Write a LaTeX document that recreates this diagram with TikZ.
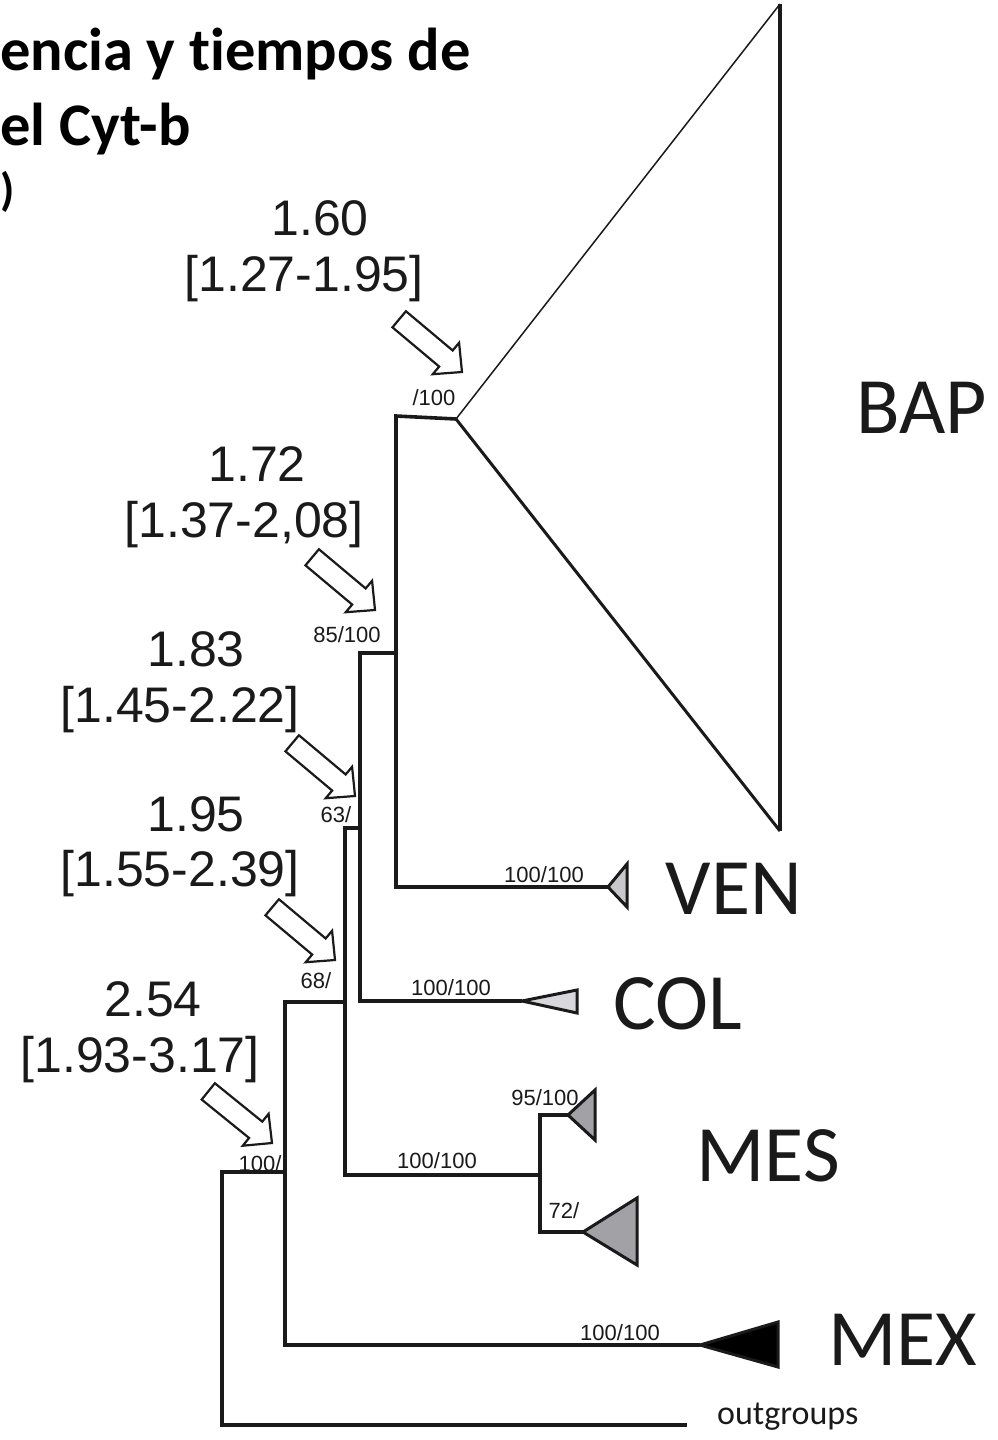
\documentclass[tikz,border=0pt]{standalone}
\usepackage{fontspec}
\setmainfont{Carlito}[Ligatures={NoCommon}]
\newfontfamily\arialf{Liberation Sans}
\definecolor{ink}{HTML}{1A1A1A}
\definecolor{venfill}{HTML}{C8C8CC}
\definecolor{colfill}{HTML}{D8D8DC}
\definecolor{mesfill}{HTML}{A2A2A6}
\begin{document}
\begin{tikzpicture}[x=1pt,y=-1pt,
  branch/.style={draw=ink, line width=3.6pt, line join=miter, line cap=butt},
  clade/.style={draw=ink, line width=3pt, line join=miter},
  support/.style={anchor=base, inner sep=0pt, text=ink, font=\arialf\fontsize{22}{24}\selectfont},
  datelab/.style={anchor=base, inner sep=0pt, text=ink, font=\arialf\fontsize{50}{56}\selectfont},
  group/.style={anchor=base, inner sep=0pt, text=ink, font=\fontsize{80}{90}\selectfont},
  titlelab/.style={anchor=base west, inner sep=0pt, text=black, font=\bfseries\fontsize{60.5}{70}\selectfont},
  harrow/.pic={\draw[draw=ink, line width=2.2pt, fill=white, line join=miter]
     (-82,-10.5) -- (-21,-10.5) -- (-21,-20.5) -- (0,0) -- (-21,20.5) -- (-21,10.5) -- (-82,10.5) -- cycle;}
]
\useasboundingbox (0,0) rectangle (998,1440);

% title (cropped in the reference)
\node[titlelab] (t1) at (0,70) {encia y tiempos de};
\node[titlelab] (t2) at (0,145) {el Cyt-b};
\node[titlelab, font=\bfseries\fontsize{46}{50}\selectfont] (t3) at (0,205) {)};

% tree coordinates
\coordinate (bapA) at (456,419);
\coordinate (bapL) at (396,416);
\coordinate (bapTop) at (780,4);
\coordinate (bapBot) at (780,831);
\coordinate (n85) at (396,653);
\coordinate (venL) at (396,887);
\coordinate (venA) at (608,887);
\coordinate (n63t) at (360,653);
\coordinate (n63b) at (360,1001);
\coordinate (colA) at (522,1001);
\coordinate (n63h) at (360,828);
\coordinate (n68t) at (345,828);
\coordinate (n68b) at (345,1175);
\coordinate (mesN) at (540,1175);
\coordinate (mesT) at (540,1115);
\coordinate (mes1A) at (568,1115);
\coordinate (mesB) at (540,1232);
\coordinate (mes2A) at (583,1232);
\coordinate (n68h) at (345,1002);
\coordinate (n100t) at (285,1002);
\coordinate (n100b) at (285,1345);
\coordinate (mexA) at (700,1345);
\coordinate (n100h) at (285,1172);
\coordinate (rootT) at (222,1172);
\coordinate (rootB) at (222,1425);
\coordinate (outE) at (687,1425);

% BAP triangle
\fill[white] (bapA) -- (bapTop) -- (bapBot) -- cycle;
\draw[ink, line width=1.5pt] (bapA) -- (bapTop);
\draw[ink, line width=3pt] (bapA) -- (bapBot);
\draw[ink, line width=4pt] (bapTop) -- (bapBot);

% branches
\draw[branch] (bapA) -- (bapL) -- (venL) -- (venA);
\draw[branch] (n85) -- (n63t) -- (n63b) -- (colA);
\draw[branch] (n63h) -- (n68t) -- (n68b) -- (mesN);
\draw[branch] (mes1A) -- (mesT) -- (mesB) -- (mes2A);
\draw[branch] (n68h) -- (n100t) -- (n100b) -- (mexA);
\draw[branch] (n100h) -- (rootT) -- (rootB) -- (outE);

% collapsed clades
\draw[clade, fill=venfill] (venA) -- (627,864) -- (627,907) -- cycle;
\draw[clade, fill=colfill] (colA) -- (577,990) -- (577,1013) -- cycle;
\draw[clade, fill=mesfill] (mes1A) -- (595,1090) -- (595,1140) -- cycle;
\draw[clade, fill=mesfill] (mes2A) -- (637,1198) -- (637,1265) -- cycle;
\draw[clade, fill=black] (mexA) -- (778,1322) -- (778,1367) -- cycle;

% support values
\node[support] (s1) at (434,405) {/100};
\node[support] (s2) at (347,642) {85/100};
\node[support] (s3) at (336,822) {63/};
\node[support] (s4) at (316,988) {68/};
\node[support] (s5) at (260,1171) {100/};
\node[support] (s6) at (544,882) {100/100};
\node[support] (s7) at (451,995) {100/100};
\node[support] (s8) at (437,1168) {100/100};
\node[support] (s9) at (545,1105) {95/100};
\node[support] (s10) at (564,1218) {72/};
\node[support] (s11) at (620,1340) {100/100};

% dates
\node[datelab] (d1a) at (320,235) {1.60};
\node[datelab] (d1b) at (304,291) {[1.27-1.95]};
\node[datelab] (d2a) at (257,481) {1.72};
\node[datelab] (d2b) at (244,537) {[1.37-2,08]};
\node[datelab] (d3a) at (196,666) {1.83};
\node[datelab] (d3b) at (180,722) {[1.45-2.22]};
\node[datelab] (d4a) at (196,831) {1.95};
\node[datelab] (d4b) at (180,886) {[1.55-2.39]};
\node[datelab] (d5a) at (153,1016) {2.54};
\node[datelab] (d5b) at (140,1072) {[1.93-3.17]};

% arrows
\pic[rotate=-40] at (462,372) {harrow};
\pic[rotate=-40] at (375,610) {harrow};
\pic[rotate=-40] at (355,796) {harrow};
\pic[rotate=-40] at (335,960) {harrow};
\pic[rotate=-39] at (272,1143) {harrow};

% group names
\node[group] (bap) at (922,433) {BAP};
\node[group] (ven) at (734,914) {VEN};
\node[group] (col) at (678,1029) {COL};
\node[group] (mes) at (768,1181) {MES};
\node[group] (mex) at (903,1365) {MEX};
\node[anchor=base west, inner sep=0pt, text=ink, font=\fontsize{34}{36}\selectfont] (out) at (717,1424) {outgroups};
\end{tikzpicture}
\end{document}
